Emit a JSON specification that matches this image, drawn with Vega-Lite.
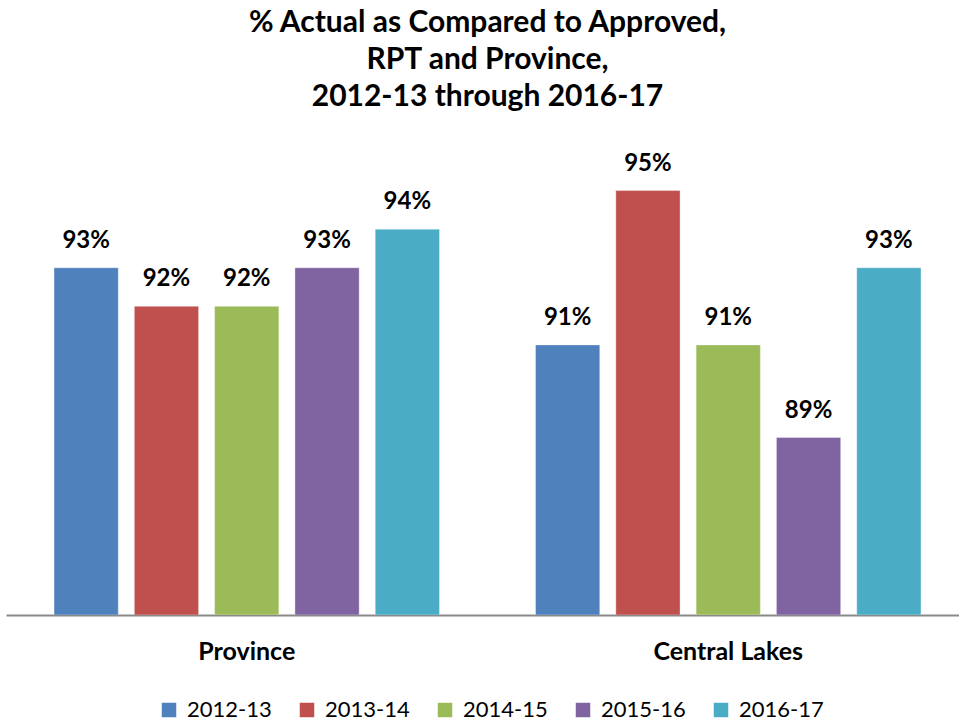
{
  "$schema": "https://vega.github.io/schema/vega-lite/v6.json",
  "width": 953,
  "height": 463,
  "autosize": {"type": "none"},
  "padding": {"left": 6, "top": 152, "right": 0, "bottom": 108},
  "background": "white",
  "config": {"view": {"stroke": null}},
  "title": {
    "text": ["% Actual as Compared to Approved,", "RPT and Province,", "2012-13 through 2016-17"],
    "font": "Lato",
    "fontSize": 30,
    "fontWeight": "bold",
    "color": "black",
    "lineHeight": 37,
    "anchor": "middle",
    "dx": 5,
    "offset": 40
  },
  "data": {
    "values": [
      {"region": "Province", "year": "2012-13", "value": 0.930},
      {"region": "Province", "year": "2013-14", "value": 0.920},
      {"region": "Province", "year": "2014-15", "value": 0.920},
      {"region": "Province", "year": "2015-16", "value": 0.930},
      {"region": "Province", "year": "2016-17", "value": 0.940},
      {"region": "Central Lakes", "year": "2012-13", "value": 0.910},
      {"region": "Central Lakes", "year": "2013-14", "value": 0.950},
      {"region": "Central Lakes", "year": "2014-15", "value": 0.910},
      {"region": "Central Lakes", "year": "2015-16", "value": 0.886},
      {"region": "Central Lakes", "year": "2016-17", "value": 0.930}
    ]
  },
  "encoding": {
    "x": {
      "field": "region",
      "type": "nominal",
      "sort": ["Province", "Central Lakes"],
      "scale": {"range": [0, 963], "paddingInner": 0, "paddingOuter": 0},
      "axis": {
        "title": null,
        "labelAngle": 0,
        "labelFont": "Lato",
        "labelFontSize": 25,
        "labelFontWeight": "bold",
        "labelColor": "black",
        "labelPadding": 24,
        "ticks": false,
        "domainColor": "#898989",
        "domainWidth": 2,
        "grid": false
      }
    },
    "xOffset": {
      "field": "year",
      "type": "nominal",
      "sort": ["2012-13", "2013-14", "2014-15", "2015-16", "2016-17"],
      "scale": {"paddingInner": 0.2, "paddingOuter": 0.598}
    },
    "y": {
      "field": "value",
      "type": "quantitative",
      "scale": {"domain": [0.84, 0.96], "zero": false},
      "axis": null
    }
  },
  "layer": [
    {
      "mark": {"type": "bar", "clip": true, "stroke": "white", "strokeOpacity": 0.35, "strokeWidth": 1},
      "encoding": {
        "y2": {"datum": 0.84},
        "color": {
          "field": "year",
          "type": "nominal",
          "sort": ["2012-13", "2013-14", "2014-15", "2015-16", "2016-17"],
          "scale": {
            "domain": ["2012-13", "2013-14", "2014-15", "2015-16", "2016-17"],
            "range": ["#4F81BD", "#C0504D", "#9BBB59", "#8064A2", "#4BACC6"]
          },
          "legend": {
            "title": null,
            "orient": "none",
            "direction": "horizontal",
            "columns": 5,
            "legendX": 152,
            "legendY": 547,
            "symbolType": "square",
            "symbolSize": 210,
            "symbolStrokeWidth": 0,
            "labelFont": "Lato",
            "labelFontSize": 22,
            "labelColor": "black",
            "labelOffset": 7,
            "columnPadding": 24
          }
        }
      }
    },
    {
      "mark": {"type": "text", "font": "Lato", "fontSize": 24, "fontWeight": "bold", "color": "black", "baseline": "alphabetic", "dy": -20},
      "encoding": {
        "text": {"field": "value", "type": "quantitative", "format": ".0%"}
      }
    }
  ]
}
